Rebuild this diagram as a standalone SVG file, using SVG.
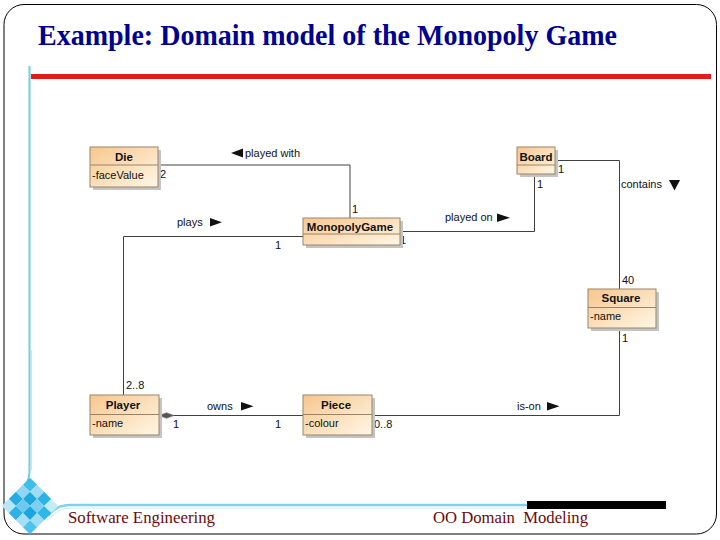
<svg xmlns="http://www.w3.org/2000/svg" width="720" height="540" viewBox="0 0 720 540">
<defs>
<linearGradient id="cls" x1="0" y1="0" x2="1" y2="1">
<stop offset="0" stop-color="#f7c68e"/>
<stop offset="1" stop-color="#fff7e6"/>
</linearGradient>
<style>
.box{fill:url(#cls);stroke:#9a8468;stroke-width:1}
.shadow{fill:#c4c4c4}
.div{stroke:#9a8468;stroke-width:1}
.nm{font-family:"Liberation Sans",Arial,sans-serif;font-size:11.5px;font-weight:bold;fill:#111;text-anchor:middle}
.at{font-family:"Liberation Sans",Arial,sans-serif;font-size:11px;fill:#111}
.lb{font-family:"Liberation Sans",Arial,sans-serif;font-size:11px;fill:#111}
.ln{fill:none;stroke:#404040;stroke-width:1}
.tri{fill:#111}
</style>
</defs>
<rect x="0" y="0" width="720" height="540" fill="#ffffff"/>
<!-- slide frame -->
<rect x="4" y="4.5" width="712.5" height="529.5" rx="20" ry="20" fill="none" stroke="#000" stroke-width="1"/>
<text x="38" y="45" font-family="'Liberation Serif','Times New Roman',serif" font-size="29" font-weight="bold" fill="#000090" textLength="579" lengthAdjust="spacingAndGlyphs">Example: Domain model of the Monopoly Game</text>
<rect x="31" y="74" width="680" height="5" fill="#e31b1b"/>
<path d="M29.5 66 L29.5 472 Q29 480 24 490" fill="none" stroke="#6fcfe3" stroke-width="2"/>
<path d="M31.5 350 L31.5 470" fill="none" stroke="#bfeaf3" stroke-width="1"/>
<path d="M48 516 Q56 505 70 505 L527 505" fill="none" stroke="#7fd3e6" stroke-width="2.5"/>
<path d="M50 518 Q58 508 72 508 L527 508" fill="none" stroke="#c9eef6" stroke-width="1"/>
<rect x="527" y="501" width="139" height="8" fill="#000"/>
<!-- bottom-left diamond decoration -->
<g transform="translate(30,506) rotate(45)">
<rect x="-20" y="-20" width="10" height="10" fill="#3dbdea"/>
<rect x="-10" y="-20" width="10" height="10" fill="#9fdcf4"/>
<rect x="0" y="-20" width="10" height="10" fill="#2bb3e6"/>
<rect x="10" y="-20" width="10" height="10" fill="#c4ebf9"/>
<rect x="-20" y="-10" width="10" height="10" fill="#8fd6f2"/>
<rect x="-10" y="-10" width="10" height="10" fill="#1fa8e0"/>
<rect x="0" y="-10" width="10" height="10" fill="#7ccff0"/>
<rect x="10" y="-10" width="10" height="10" fill="#2fb6e8"/>
<rect x="-20" y="0" width="10" height="10" fill="#25ade3"/>
<rect x="-10" y="0" width="10" height="10" fill="#6cc9ee"/>
<rect x="0" y="0" width="10" height="10" fill="#1ca6df"/>
<rect x="10" y="0" width="10" height="10" fill="#9edbf4"/>
<rect x="-20" y="10" width="10" height="10" fill="#b8e6f7"/>
<rect x="-10" y="10" width="10" height="10" fill="#2cb2e6"/>
<rect x="0" y="10" width="10" height="10" fill="#a6def5"/>
<rect x="10" y="10" width="10" height="10" fill="#4dc2ec"/>
</g>
<text x="68" y="523" font-family="'Liberation Serif','Times New Roman',serif" font-size="16" fill="#6b0a0a" textLength="147" lengthAdjust="spacingAndGlyphs">Software Engineering</text>
<text x="433" y="523" font-family="'Liberation Serif','Times New Roman',serif" font-size="16" fill="#6b0a0a" style="white-space:pre" textLength="155" lengthAdjust="spacingAndGlyphs">OO Domain  Modeling</text>

<!-- connectors -->
<g id="connectors">
<polyline class="ln" points="158,165 350,165 350,218"/>
<polygon class="tri" points="231,153 243,148.5 243,157.5"/>
<text class="lb" x="245" y="157">played with</text>
<text class="lb" x="160" y="178">2</text>
<text class="lb" x="352" y="213">1</text>

<polyline class="ln" points="303,236.5 123.5,236.5 123.5,395"/>
<text class="lb" x="177" y="226">plays</text>
<polygon class="tri" points="210,218 210,226.5 222,222.2"/>
<text class="lb" x="275" y="249">1</text>
<text class="lb" x="126" y="389">2..8</text>

<polyline class="ln" points="400,231.5 534.5,231.5 534.5,174"/>
<text class="lb" x="445" y="221">played on</text>
<polygon class="tri" points="497,213.5 497,222 510,217.8"/>
<text class="lb" x="400" y="244">1</text>
<text class="lb" x="537" y="188">1</text>

<polyline class="ln" points="555,160.5 619.5,160.5 619.5,289"/>
<text class="lb" x="558" y="173">1</text>
<text class="lb" x="621" y="188">contains</text>
<polygon class="tri" points="669,180 680,180 674.5,190.5"/>
<text class="lb" x="622" y="284">40</text>

<polyline class="ln" points="173,415.5 303,415.5"/>
<polygon points="159,415.5 166.5,412.7 174,415.5 166.5,418.3" fill="#555" stroke="#777" stroke-width="0.6"/>
<text class="lb" x="207" y="409.5">owns</text>
<polygon class="tri" points="241,402 241,410.5 253.5,406.2"/>
<text class="lb" x="173" y="428">1</text>
<text class="lb" x="275" y="428">1</text>

<polyline class="ln" points="372,415.5 619.5,415.5 619.5,328"/>
<text class="lb" x="374" y="428">0..8</text>
<text class="lb" x="517" y="410">is-on</text>
<polygon class="tri" points="547,402 547,410.5 559.5,406.2"/>
<text class="lb" x="622" y="342">1</text>
</g>

<!-- nodes -->
<g id="die">
<rect class="shadow" x="93" y="150" width="68" height="40"/>
<rect class="box" x="90" y="147" width="68" height="40"/>
<line class="div" x1="90" y1="165" x2="158" y2="165"/>
<text class="nm" x="124" y="160.5">Die</text>
<text class="at" x="92" y="179">-faceValue</text>
</g>
<g id="board">
<rect class="shadow" x="520" y="150" width="38" height="27"/>
<rect class="box" x="517" y="147" width="38" height="27"/>
<line class="div" x1="517" y1="165" x2="555" y2="165"/>
<text class="nm" x="536" y="160.5">Board</text>
</g>
<g id="monopolygame">
<rect class="shadow" x="306" y="221" width="97" height="27"/>
<rect class="box" x="303" y="218" width="97" height="27"/>
<line class="div" x1="303" y1="234" x2="400" y2="234"/>
<text class="nm" x="350" y="231">MonopolyGame</text>
</g>
<g id="square">
<rect class="shadow" x="591" y="292" width="68" height="39"/>
<rect class="box" x="588" y="289" width="68" height="39"/>
<line class="div" x1="588" y1="307.5" x2="656" y2="307.5"/>
<text class="nm" x="621" y="302">Square</text>
<text class="at" x="590" y="320">-name</text>
</g>
<g id="player">
<rect class="shadow" x="93" y="398" width="69" height="40"/>
<rect class="box" x="90" y="395" width="69" height="40"/>
<line class="div" x1="90" y1="414.5" x2="159" y2="414.5"/>
<text class="nm" x="123" y="409">Player</text>
<text class="at" x="92" y="427">-name</text>
</g>
<g id="piece">
<rect class="shadow" x="306" y="398" width="69" height="40"/>
<rect class="box" x="303" y="395" width="69" height="40"/>
<line class="div" x1="303" y1="414.5" x2="372" y2="414.5"/>
<text class="nm" x="336" y="409">Piece</text>
<text class="at" x="305" y="427">-colour</text>
</g>
</svg>
